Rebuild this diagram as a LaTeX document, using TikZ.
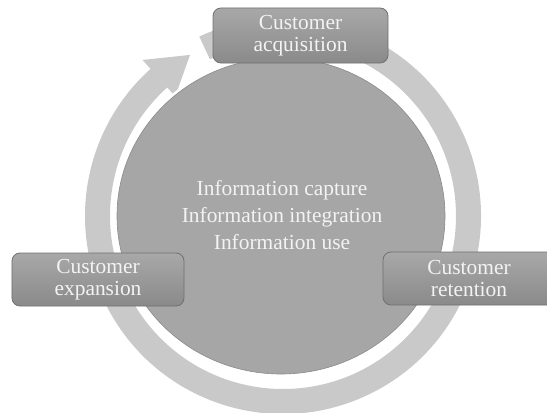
\documentclass[tikz,border=0pt]{standalone}
\usepackage{fontspec}
\setmainfont{Liberation Serif}
\definecolor{ringgray}{RGB}{201,201,201}
\definecolor{diskgray}{RGB}{166,166,166}
\definecolor{diskedge}{RGB}{138,138,138}
\definecolor{boxtop}{RGB}{168,168,168}
\definecolor{boxbot}{RGB}{138,138,138}
\definecolor{boxedge}{RGB}{112,112,112}
\definecolor{txt}{RGB}{243,243,243}
\tikzset{
  stagebox/.style={draw=boxedge, line width=0.8bp, rounded corners=8bp,
    top color=boxtop, bottom color=boxbot, text=txt, align=center,
    minimum width=172bp, minimum height=53bp, inner sep=0pt,
    font=\fontsize{21.5}{22}\selectfont},
  centertext/.style={text=txt, align=center, inner sep=0pt,
    font=\fontsize{21.5}{27.5}\selectfont}
}
\begin{document}
\begin{tikzpicture}[x=1bp,y=1bp]
\useasboundingbox (0,0) rectangle (547,412);
\clip (0,0) rectangle (547,412);
% circular arrow
\fill[ringgray, shift={(283,196)}]
  (115:198) arc[start angle=115, end angle=-228, radius=198]
  -- (-228:210) -- (-240:186) -- (-228:161) -- (-228:173)
  arc[start angle=-228, end angle=115, radius=173] -- cycle;
% central disk
\fill[white] (281,196) ellipse [x radius=167, y radius=161];
\fill[diskgray, draw=diskedge, line width=0.6bp] (281,196) ellipse [x radius=164, y radius=158];
% stages
\node[stagebox, minimum width=175bp, minimum height=55bp] (acq) at (300.5,376.5) {Customer\\acquisition};
\node[stagebox] (exp) at (98,132.5) {Customer\\expansion};
\node[stagebox] (ret) at (469,133.5) {Customer\\retention};
\node[centertext] (info) at (282,197) {Information capture\\Information integration\\Information use};
\end{tikzpicture}
\end{document}
